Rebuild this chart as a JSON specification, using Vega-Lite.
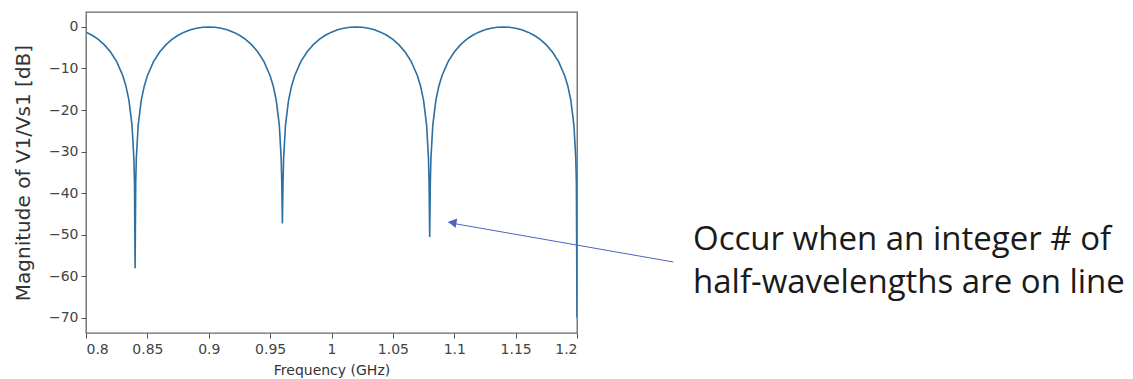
{
  "$schema": "https://vega.github.io/schema/vega-lite/v6.json",
  "width": 491,
  "height": 321,
  "autosize": {"type": "none"},
  "padding": {"left": 86, "top": 12, "right": 556, "bottom": 46},
  "background": "white",
  "config": {
    "view": {"stroke": "#666666", "strokeWidth": 1.3},
    "axis": {
      "grid": false,
      "domain": false,
      "tickColor": "#555555",
      "tickSize": 5,
      "labelColor": "#444444",
      "labelFont": "DejaVu Sans",
      "labelFontSize": 14,
      "titleFont": "DejaVu Sans",
      "titleFontWeight": "normal",
      "titleColor": "#333333"
    }
  },
  "datasets": {
    "curve": [
      {"f": 0.8, "mag": -1.249}, {"f": 0.805, "mag": -2.011}, {"f": 0.81, "mag": -3.01}, {"f": 0.815, "mag": -4.311},
      {"f": 0.82, "mag": -6.021}, {"f": 0.825, "mag": -8.343}, {"f": 0.83, "mag": -11.74}, {"f": 0.8325, "mag": -14.195},
      {"f": 0.835, "mag": -17.686}, {"f": 0.8375, "mag": -23.688}, {"f": 0.839, "mag": -31.641}, {"f": 0.8395, "mag": -37.66},
      {"f": 0.84, "mag": -58.1},
      {"f": 0.8405, "mag": -37.66}, {"f": 0.841, "mag": -31.641}, {"f": 0.8425, "mag": -23.688}, {"f": 0.845, "mag": -17.686},
      {"f": 0.8475, "mag": -14.195}, {"f": 0.85, "mag": -11.74}, {"f": 0.855, "mag": -8.343}, {"f": 0.86, "mag": -6.021},
      {"f": 0.865, "mag": -4.311}, {"f": 0.87, "mag": -3.01}, {"f": 0.875, "mag": -2.011}, {"f": 0.88, "mag": -1.249},
      {"f": 0.885, "mag": -0.688}, {"f": 0.89, "mag": -0.301}, {"f": 0.895, "mag": -0.075}, {"f": 0.9, "mag": 0},
      {"f": 0.905, "mag": -0.075}, {"f": 0.91, "mag": -0.301}, {"f": 0.915, "mag": -0.688}, {"f": 0.92, "mag": -1.249},
      {"f": 0.925, "mag": -2.011}, {"f": 0.93, "mag": -3.01}, {"f": 0.935, "mag": -4.311}, {"f": 0.94, "mag": -6.021},
      {"f": 0.945, "mag": -8.343}, {"f": 0.95, "mag": -11.74}, {"f": 0.9525, "mag": -14.195}, {"f": 0.955, "mag": -17.686},
      {"f": 0.9575, "mag": -23.688}, {"f": 0.959, "mag": -31.641}, {"f": 0.9595, "mag": -37.66},
      {"f": 0.96, "mag": -47.3},
      {"f": 0.9605, "mag": -37.66}, {"f": 0.961, "mag": -31.641}, {"f": 0.9625, "mag": -23.688}, {"f": 0.965, "mag": -17.686},
      {"f": 0.9675, "mag": -14.195}, {"f": 0.97, "mag": -11.74}, {"f": 0.975, "mag": -8.343}, {"f": 0.98, "mag": -6.021},
      {"f": 0.985, "mag": -4.311}, {"f": 0.99, "mag": -3.01}, {"f": 0.995, "mag": -2.011}, {"f": 1.0, "mag": -1.249},
      {"f": 1.005, "mag": -0.688}, {"f": 1.01, "mag": -0.301}, {"f": 1.015, "mag": -0.075}, {"f": 1.02, "mag": 0},
      {"f": 1.025, "mag": -0.075}, {"f": 1.03, "mag": -0.301}, {"f": 1.035, "mag": -0.688}, {"f": 1.04, "mag": -1.249},
      {"f": 1.045, "mag": -2.011}, {"f": 1.05, "mag": -3.01}, {"f": 1.055, "mag": -4.311}, {"f": 1.06, "mag": -6.021},
      {"f": 1.065, "mag": -8.343}, {"f": 1.07, "mag": -11.74}, {"f": 1.0725, "mag": -14.195}, {"f": 1.075, "mag": -17.686},
      {"f": 1.0775, "mag": -23.688}, {"f": 1.079, "mag": -31.641}, {"f": 1.0795, "mag": -37.66},
      {"f": 1.08, "mag": -50.6},
      {"f": 1.0805, "mag": -37.66}, {"f": 1.081, "mag": -31.641}, {"f": 1.0825, "mag": -23.688}, {"f": 1.085, "mag": -17.686},
      {"f": 1.0875, "mag": -14.195}, {"f": 1.09, "mag": -11.74}, {"f": 1.095, "mag": -8.343}, {"f": 1.1, "mag": -6.021},
      {"f": 1.105, "mag": -4.311}, {"f": 1.11, "mag": -3.01}, {"f": 1.115, "mag": -2.011}, {"f": 1.12, "mag": -1.249},
      {"f": 1.125, "mag": -0.688}, {"f": 1.13, "mag": -0.301}, {"f": 1.135, "mag": -0.075}, {"f": 1.14, "mag": 0},
      {"f": 1.145, "mag": -0.075}, {"f": 1.15, "mag": -0.301}, {"f": 1.155, "mag": -0.688}, {"f": 1.16, "mag": -1.249},
      {"f": 1.165, "mag": -2.011}, {"f": 1.17, "mag": -3.01}, {"f": 1.175, "mag": -4.311}, {"f": 1.18, "mag": -6.021},
      {"f": 1.185, "mag": -8.343}, {"f": 1.19, "mag": -11.74}, {"f": 1.1925, "mag": -14.195}, {"f": 1.195, "mag": -17.686},
      {"f": 1.1975, "mag": -23.688}, {"f": 1.199, "mag": -31.641}, {"f": 1.1995, "mag": -37.66},
      {"f": 1.2, "mag": -70}
    ],
    "arrow": [
      {"f": 1.2785, "mag": -56.6, "f2": 1.0952, "mag2": -47.1}
    ],
    "notes": [
      {"f": 1.2945, "mag": -53.8, "text": "Occur when an integer # of"},
      {"f": 1.2945, "mag": -64.1, "text": "half-wavelengths are on line"}
    ]
  },
  "layer": [
    {
      "data": {"name": "curve"},
      "mark": {"type": "line", "color": "#2b6fa3", "strokeWidth": 1.6, "clip": true},
      "encoding": {
        "x": {
          "field": "f", "type": "quantitative",
          "scale": {"domain": [0.8, 1.2], "nice": false, "zero": false},
          "axis": {"values": [0.8, 0.85, 0.9, 0.95, 1, 1.05, 1.1, 1.15, 1.2], "format": "~g", "title": "Frequency (GHz)", "titleFontSize": 14, "titlePadding": 7, "labelPadding": 4}
        },
        "y": {
          "field": "mag", "type": "quantitative",
          "scale": {"domain": [-73.7, 3.6], "nice": false, "zero": false},
          "axis": {"values": [0, -10, -20, -30, -40, -50, -60, -70], "title": "Magnitude of V1/Vs1 [dB]", "titleFontSize": 20, "titlePadding": 15, "labelPadding": 3}
        }
      }
    },
    {
      "data": {"name": "arrow"},
      "mark": {"type": "rule", "color": "#4f62c4", "strokeWidth": 1},
      "encoding": {
        "x": {"field": "f", "type": "quantitative"},
        "y": {"field": "mag", "type": "quantitative"},
        "x2": {"field": "f2"},
        "y2": {"field": "mag2"}
      }
    },
    {
      "data": {"name": "arrow"},
      "mark": {"type": "point", "shape": "triangle-left", "filled": true, "color": "#4f62c4", "opacity": 1, "size": 90, "angle": 10, "xOffset": 4},
      "encoding": {
        "x": {"field": "f2", "type": "quantitative"},
        "y": {"field": "mag2", "type": "quantitative"}
      }
    },
    {
      "data": {"name": "notes"},
      "mark": {"type": "text", "align": "left", "baseline": "alphabetic", "font": "Open Sans", "fontSize": 33, "color": "#1a1a1a"},
      "encoding": {
        "x": {"field": "f", "type": "quantitative"},
        "y": {"field": "mag", "type": "quantitative"},
        "text": {"field": "text"}
      }
    }
  ]
}
